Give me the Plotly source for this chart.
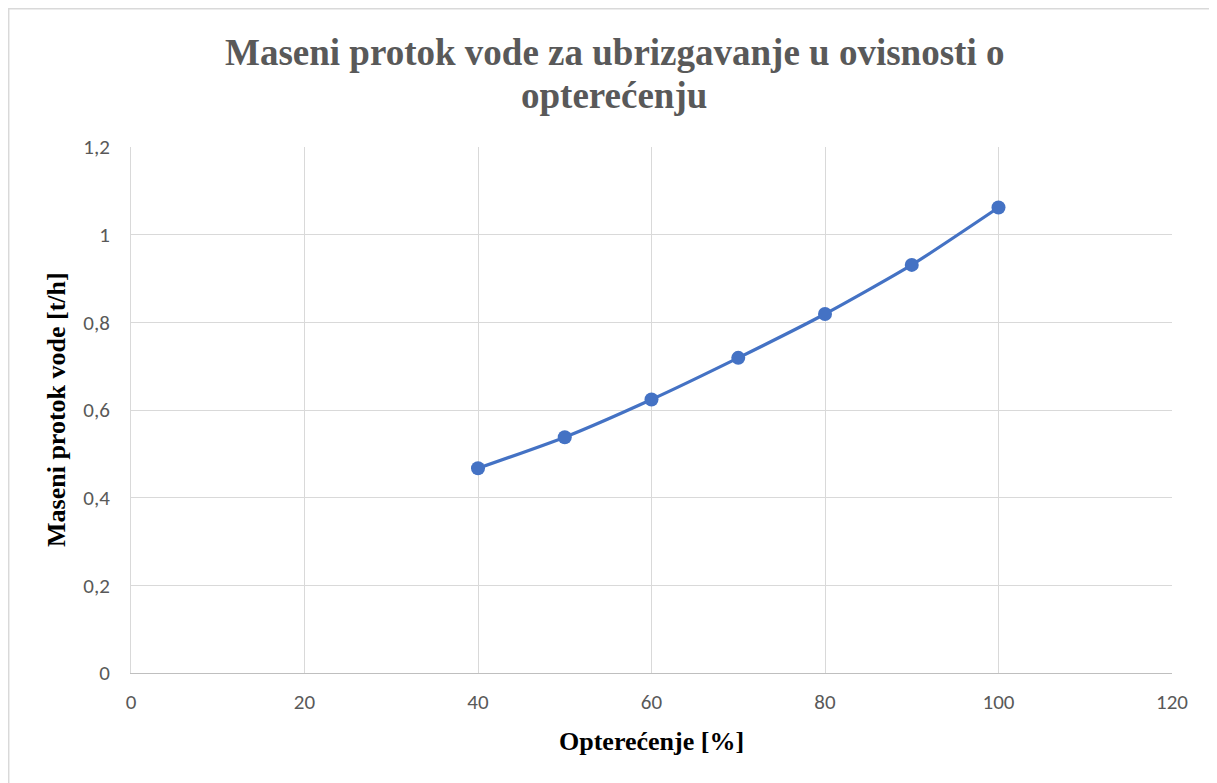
import plotly.graph_objects as go

load_pct = [40, 50, 60, 70, 80, 90, 100]
water_flow = [0.467, 0.538, 0.624, 0.719, 0.819, 0.931, 1.062]
x_ticks = [0, 20, 40, 60, 80, 100, 120]
y_ticks = [0, 0.2, 0.4, 0.6, 0.8, 1.0, 1.2]
y_tick_labels = ["0", "0,2", "0,4", "0,6", "0,8", "1", "1,2"]

title_line1 = "Maseni protok vode za ubrizgavanje u ovisnosti o"
title_line2 = "opterećenju"
x_title = "Opterećenje [%]"
y_title = "Maseni protok vode [t/h]"

serif = "Liberation Serif, Times New Roman, serif"
sans = "Calibri, Carlito, Lato, Liberation Sans, sans-serif"

fig = go.Figure()
fig.add_trace(go.Scatter(
    x=load_pct, y=water_flow, mode="lines+markers",
    line=dict(color="#4472C4", width=3.2, shape="spline", smoothing=0.6),
    marker=dict(color="#4472C4", size=14),
    showlegend=False,
))

title_font = dict(family=serif, size=37, color="#595959", weight="bold")
axis_title_font = dict(family=serif, size=26, color="black", weight="bold")
title_x = (614 - 131) / 1041

fig.update_layout(
    width=1209, height=775,
    margin=dict(l=123, r=45, t=139, b=110),
    paper_bgcolor="white", plot_bgcolor="white",
    xaxis=dict(range=[0, 120], tickvals=x_ticks, showgrid=True, gridcolor="#D9D9D9",
               gridwidth=1, zeroline=False, showline=True, linecolor="#BFBFBF",
               linewidth=1, ticks="", ticklabelstandoff=10,
               tickfont=dict(family=sans, size=21, color="#595959")),
    yaxis=dict(range=[0, 1.2], tickvals=y_ticks, ticktext=y_tick_labels, showgrid=True,
               gridcolor="#D9D9D9", gridwidth=1, zeroline=False, showline=True,
               linecolor="#D9D9D9", linewidth=1, mirror=False,
               ticks="", ticklabelstandoff=16,
               tickfont=dict(family=sans, size=21, color="#595959")),
    annotations=[
        dict(text=title_line1, xref="paper", yref="paper", x=title_x, y=(673 - 52) / 526,
             xanchor="center", yanchor="middle", showarrow=False, font=title_font),
        dict(text=title_line2, xref="paper", yref="paper", x=title_x, y=(673 - 95) / 526,
             xanchor="center", yanchor="middle", showarrow=False, font=title_font),
        dict(text=x_title, xref="paper", yref="paper", x=0.5, y=(673 - 741) / 526,
             xanchor="center", yanchor="middle", showarrow=False, font=axis_title_font),
        dict(text=y_title, xref="paper", yref="paper", x=(56 - 131) / 1041, y=(673 - 410) / 526,
             xanchor="center", yanchor="middle", showarrow=False, textangle=-90,
             font=axis_title_font),
    ],
    shapes=[dict(type="rect", xref="paper", yref="paper",
                 x0=-122.3 / 1041, x1=1.2, y0=-0.3, y1=1 + 138.3 / 526,
                 line=dict(color="#D9D9D9", width=1.5), fillcolor="rgba(0,0,0,0)",
                 layer="below")],
)

fig.write_html("out.html")
